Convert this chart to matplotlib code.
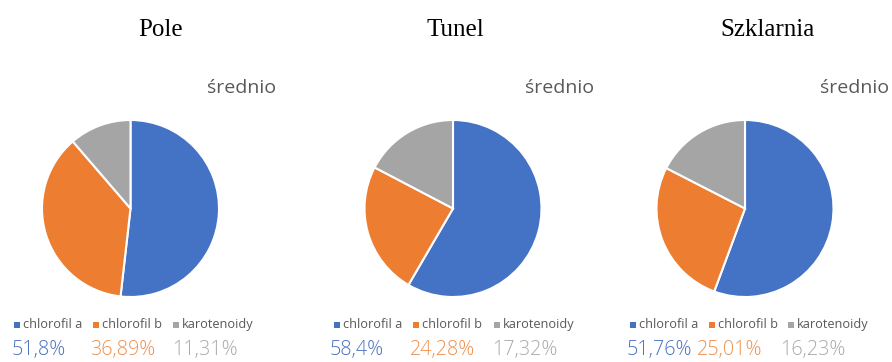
import matplotlib.pyplot as plt
from matplotlib.patches import Rectangle

# Chlorophyll / carotenoid shares (%) for each growing site
sites = ["Pole", "Tunel", "Szklarnia"]
components = ["chlorofil a", "chlorofil b", "karotenoidy"]
shares = [
    [51.8, 36.89, 11.31],
    [58.4, 24.28, 17.32],
    [51.76, 25.01, 16.23],
]
share_labels = [
    ["51,8%", "36,89%", "11,31%"],
    ["58,4%", "24,28%", "17,32%"],
    ["51,76%", "25,01%", "16,23%"],
]
colors = ["#4472C4", "#ED7D31", "#A5A5A5"]
pct_colors = ["#4A72C0", "#EE9150", "#AAAAAA"]
text_grey = "#595959"

W, H = 892, 362
fig = plt.figure(figsize=(W / 100, H / 100), dpi=100)
fig.patch.set_facecolor("white")

# panel layout in pixels (from left / top)
pie_cx = [130.5, 453, 745]
pie_cy = 208.5
pie_r = 88.5
title_x = [161, 455, 767]
sred_x = [241.5, 560, 855]
legend_sq_x = [[14, 93, 173], [334, 413, 494], [630, 709, 788]]
pct_x = [[12, 90, 172], [330, 410, 492], [627, 697, 780]]


def fx(px):
    return px / W


def fy(py):
    return 1 - py / H


for i, site in enumerate(sites):
    ax = fig.add_axes([fx(pie_cx[i] - pie_r), fy(pie_cy + pie_r),
                       2 * pie_r / W, 2 * pie_r / H])
    ax.pie(shares[i], colors=colors, startangle=90, counterclock=False,
           radius=1, wedgeprops=dict(edgecolor="white", linewidth=1.5))
    ax.set_xlim(-1, 1)
    ax.set_ylim(-1, 1)
    ax.axis("off")

    fig.text(fx(title_x[i]), fy(30), site, ha="center", va="center",
             fontsize=18, family="Liberation Serif", color="black")
    fig.text(fx(sred_x[i]), fy(88), "średnio", ha="center", va="center",
             fontsize=14, family="Open Sans", color=text_grey)

    # legend row
    for j, comp in enumerate(components):
        x0 = legend_sq_x[i][j]
        fig.patches.append(Rectangle((fx(x0), fy(328)), 6 / W, 6 / H,
                                     transform=fig.transFigure,
                                     facecolor=colors[j], edgecolor="none"))
        fig.text(fx(x0 + 9), fy(324.5), comp, ha="left", va="center",
                 fontsize=9.2, family="Open Sans", color=text_grey)

    # percentage row
    for j, lab in enumerate(share_labels[i]):
        fig.text(fx(pct_x[i][j]), fy(350), lab, ha="left", va="center",
                 fontsize=14.2, family="Open Sans", fontweight="light",
                 color=pct_colors[j])

fig.savefig("out.png", dpi=100, facecolor="white")
